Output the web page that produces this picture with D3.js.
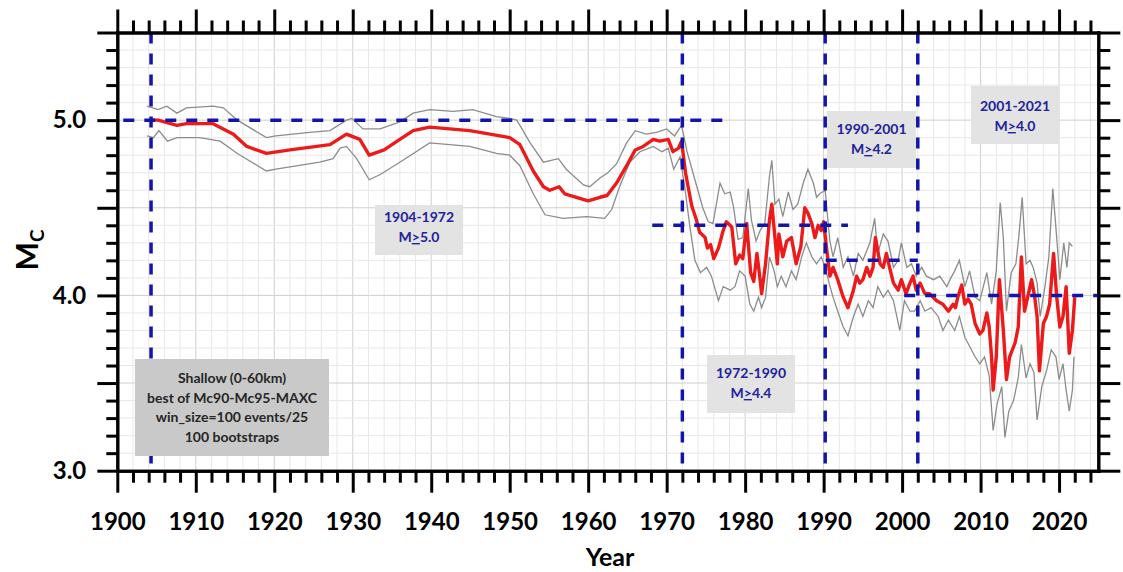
<!DOCTYPE html>
<html>
<head>
<meta charset="utf-8">
<script src="https://cdn.jsdelivr.net/npm/d3@7"></script>
<style>
  html, body { margin: 0; padding: 0; background: #ffffff; }
  svg { display: block; font-family: Lato, "Open Sans", sans-serif; }
</style>
</head>
<body>
<svg id="chart" width="1123" height="572"></svg>
<script>
// ---- Mc time series (best of Mc90-Mc95-MAXC), with bootstrap bounds ----
const mcYears = [1904.3,1905.2,1907.6,1908.8,1912.2,1914.8,1916.5,1919.0,1922.0,1927.1,1929.2,1930.9,1932.1,1934.0,1936.0,1937.7,1939.8,1944.9,1947.5,1950.0,1951.3,1953.0,1954.3,1955.1,1956.3,1957.0,1958.5,1960.0,1961.5,1962.4,1963.6,1964.9,1966.0,1967.0,1968.3,1969.1,1970.2,1970.8,1971.5,1971.9,1972.4,1973.2,1973.8,1974.2,1974.9,1975.2,1975.6,1976.0,1976.6,1977.2,1977.6,1978.3,1978.8,1979.3,1979.7,1980.2,1980.7,1981.1,1981.5,1981.8,1982.1,1982.6,1983.1,1983.4,1983.8,1984.1,1984.3,1984.8,1985.3,1985.9,1986.5,1987.1,1987.6,1988.0,1988.5,1988.9,1989.3,1989.7,1990.0,1990.4,1990.8,1991.2,1991.8,1992.5,1993.1,1993.8,1994.2,1994.6,1995.0,1995.5,1995.9,1996.3,1996.6,1997.2,1997.6,1998.0,1998.4,1998.9,1999.5,1999.9,2000.5,2001.0,2001.4,2001.8,2002.3,2002.9,2003.5,2004.4,2005.2,2005.9,2006.5,2006.8,2007.1,2007.6,2008.0,2008.4,2008.8,2009.3,2009.9,2010.3,2010.8,2011.1,2011.4,2011.6,2012.0,2012.4,2012.9,2013.3,2013.7,2014.4,2014.8,2015.2,2015.6,2016.1,2016.5,2016.9,2017.2,2017.5,2018.0,2018.4,2018.8,2019.3,2019.7,2020.1,2020.5,2020.9,2021.3,2021.7,2022.0];
const mcValues = [5.00,5.00,4.97,4.98,4.98,4.92,4.85,4.81,4.83,4.86,4.92,4.89,4.80,4.83,4.89,4.94,4.96,4.94,4.92,4.90,4.86,4.71,4.62,4.60,4.62,4.58,4.56,4.54,4.56,4.57,4.64,4.74,4.83,4.85,4.89,4.88,4.89,4.82,4.84,4.88,4.70,4.51,4.43,4.36,4.33,4.27,4.29,4.21,4.27,4.37,4.42,4.39,4.18,4.23,4.21,4.41,4.13,4.08,4.24,4.13,4.01,4.18,4.43,4.52,4.33,4.18,4.35,4.22,4.31,4.33,4.18,4.28,4.50,4.47,4.41,4.33,4.40,4.37,4.42,4.26,4.11,4.16,4.09,3.99,3.93,4.03,4.11,4.07,4.09,4.16,4.11,4.16,4.33,4.18,4.16,4.24,4.16,4.07,4.03,4.09,4.01,4.07,4.11,4.03,4.07,4.01,4.01,3.97,3.95,3.91,3.95,3.93,3.99,4.06,3.95,3.98,3.95,3.84,3.78,3.80,3.90,3.82,3.65,3.46,3.65,4.09,3.80,3.52,3.65,3.73,3.82,4.22,3.91,4.01,4.09,3.99,3.88,3.57,3.84,3.88,3.95,4.24,3.99,3.82,3.88,4.05,3.67,3.80,3.99];

const upperYears = [1903.8,1905.2,1906.3,1907.6,1908.8,1912.2,1913.5,1915.3,1919.0,1920.2,1924.5,1927.1,1929.2,1929.9,1931.3,1933.5,1936.0,1937.7,1939.8,1942.8,1945.3,1948.3,1950.0,1950.9,1951.3,1952.6,1954.3,1956.2,1957.2,1959.4,1960.2,1961.5,1962.5,1963.6,1964.9,1966.0,1967.4,1968.7,1970.0,1971.0,1971.9,1972.6,1973.6,1974.6,1975.3,1975.9,1976.8,1977.4,1978.1,1978.5,1979.1,1979.7,1980.4,1980.8,1981.4,1981.9,1982.5,1983.1,1983.4,1983.8,1984.3,1984.8,1985.5,1986.1,1986.7,1987.4,1988.0,1988.7,1989.1,1989.5,1990.2,1990.6,1990.8,1991.2,1991.8,1992.5,1993.1,1993.8,1994.4,1995.0,1995.9,1996.5,1996.9,1997.6,1998.2,1998.9,1999.5,1999.9,2000.6,2001.2,2001.8,2002.5,2003.1,2004.0,2004.8,2005.7,2006.1,2006.7,2007.3,2008.0,2008.6,2009.3,2009.9,2010.8,2011.4,2012.0,2012.5,2012.9,2013.3,2013.9,2014.5,2014.9,2015.3,2015.8,2016.3,2016.7,2017.2,2017.6,2018.2,2018.7,2019.2,2019.7,2020.1,2020.6,2021.0,2021.3,2021.7];
const upperValues = [5.08,5.06,5.08,5.04,5.07,5.08,5.07,5.00,4.90,4.91,4.93,4.94,5.00,5.01,4.95,4.95,4.99,5.04,5.06,5.05,5.06,5.02,5.01,5.00,4.97,4.87,4.76,4.78,4.72,4.63,4.62,4.67,4.70,4.75,4.87,4.94,4.92,4.93,4.95,4.91,4.97,4.82,4.66,4.50,4.42,4.41,4.64,4.58,4.59,4.51,4.32,4.33,4.61,4.43,4.31,4.37,4.41,4.68,4.77,4.52,4.55,4.45,4.59,4.49,4.52,4.64,4.72,4.64,4.56,4.58,4.60,4.40,4.31,4.22,4.33,4.16,4.22,4.11,4.24,4.20,4.30,4.44,4.24,4.35,4.31,4.16,4.20,4.30,4.16,4.18,4.11,4.16,4.11,4.09,4.11,4.05,4.09,4.14,4.20,4.05,4.14,3.99,3.97,4.13,3.95,4.14,4.53,4.33,3.91,4.13,4.18,4.35,4.56,4.18,4.20,4.16,4.07,3.88,4.05,4.22,4.61,4.33,4.09,4.30,4.16,4.30,4.28];

const lowerYears = [1903.8,1904.6,1905.3,1906.4,1907.6,1910.5,1913.1,1915.3,1919.0,1920.2,1925.8,1927.5,1928.4,1929.2,1930.5,1932.1,1933.5,1936.0,1939.8,1944.9,1948.3,1950.0,1951.3,1953.0,1954.5,1956.8,1959.8,1962.1,1963.0,1964.0,1965.3,1966.6,1968.3,1969.4,1970.2,1970.9,1971.7,1972.3,1973.0,1973.6,1974.3,1975.1,1975.7,1976.6,1977.2,1978.1,1978.7,1979.3,1980.0,1980.6,1981.1,1981.7,1982.1,1982.6,1983.1,1983.7,1984.1,1984.6,1985.2,1985.9,1986.5,1987.2,1987.8,1988.5,1989.1,1989.7,1990.2,1990.7,1991.2,1991.8,1992.5,1993.1,1993.8,1994.4,1995.0,1995.7,1996.3,1996.9,1997.6,1998.2,1998.9,1999.7,2000.3,2001.0,2001.6,2002.3,2002.9,2003.7,2004.6,2005.2,2005.9,2006.7,2007.3,2008.0,2008.6,2009.3,2009.9,2010.5,2011.1,2011.6,2012.1,2012.7,2013.1,2013.6,2014.2,2014.8,2015.2,2015.8,2016.3,2016.8,2017.2,2017.8,2018.4,2019.0,2019.6,2020.0,2020.5,2020.9,2021.3,2021.7,2021.9];
const lowerValues = [4.91,4.90,4.94,4.88,4.90,4.90,4.88,4.81,4.71,4.72,4.76,4.78,4.84,4.85,4.78,4.66,4.69,4.76,4.87,4.85,4.81,4.80,4.74,4.58,4.46,4.44,4.45,4.44,4.49,4.62,4.76,4.82,4.85,4.82,4.84,4.72,4.79,4.62,4.38,4.20,4.13,4.16,4.11,3.97,4.05,4.03,4.05,4.14,4.11,3.95,3.91,3.99,3.93,3.99,4.22,4.14,4.05,4.11,4.05,4.14,4.09,4.22,4.30,4.22,4.18,4.22,4.16,4.07,3.99,3.91,3.82,3.77,3.88,3.95,3.88,3.97,3.93,4.05,3.99,4.03,3.97,3.80,3.97,3.91,3.91,3.97,3.91,3.93,3.88,3.80,3.86,3.80,3.88,3.76,3.71,3.65,3.61,3.65,3.54,3.23,3.38,3.48,3.19,3.34,3.40,3.53,3.72,3.53,3.61,3.56,3.29,3.48,3.57,3.69,3.65,3.52,3.61,3.46,3.34,3.46,3.65];

// ---- completeness thresholds per period ----
const periodBreaks = [1904.3, 1972.0, 1990.2, 2002.0];
const thresholdLevels = [5.0, 4.4, 4.2, 4.0];
const thresholdFrom = [1900.0, 1967.4, 1989.5, 1999.5];
const thresholdTo = [1978.0, 1993.1, 2002.0, 2025.0];
const periodLabels = ["1904-1972", "1972-1990", "1990-2001", "2001-2021"];
const periodMags = ["5.0", "4.4", "4.2", "4.0"];
const infoLines = ["Shallow (0-60km)", "best of Mc90-Mc95-MAXC", "win_size=100 events/25", "100 bootstraps"];

// ---- axis ticks ----
const yearMajor = d3.range(1900, 2021, 10);
const yearMinor = d3.range(1902, 2025, 2).filter(d => d % 10 !== 0);
const magMajor = [3.0, 3.5, 4.0, 4.5, 5.0, 5.5];
const magMinor = d3.range(31, 55).map(d => d / 10).filter(v => Math.round(v * 10) % 5 !== 0);
const magLabelled = [3.0, 4.0, 5.0];

// ---- layout ----
const padL = 117.3, padR = 1098.3, padT = 32.5, padB = 470.7;
const x = d3.scaleLinear().domain([1900, 2025]).range([padL, padR]);
const y = d3.scaleLinear().domain([3.0, 5.5]).range([padB, padT]);

const svg = d3.select("#chart");
const BLUE = "#1414aa";
const TEXT_BLUE = "#22229c";

// grid
const grid = svg.append("g");
grid.selectAll("line.v").data(d3.range(1902, 2025, 2)).join("line")
  .attr("x1", d => x(d)).attr("x2", d => x(d))
  .attr("y1", padT).attr("y2", padB)
  .attr("stroke", d => d % 10 === 0 ? "#cfcfcf" : "#e8e8e8")
  .attr("stroke-width", 1);
grid.selectAll("line.h").data(d3.range(31, 55).map(d => d / 10)).join("line")
  .attr("x1", padL).attr("x2", padR)
  .attr("y1", d => y(d)).attr("y2", d => y(d))
  .attr("stroke", d => Math.round(d * 10) % 5 === 0 ? "#cfcfcf" : "#e8e8e8")
  .attr("stroke-width", 1);

// series
const line = d3.line().x(d => x(d[0])).y(d => y(d[1]));
const zip = (a, b) => a.map((v, i) => [v, b[i]]);
svg.append("path").datum(zip(upperYears, upperValues))
  .attr("d", line).attr("fill", "none").attr("stroke", "#8c8c8c").attr("stroke-width", 1.3);
svg.append("path").datum(zip(lowerYears, lowerValues))
  .attr("d", line).attr("fill", "none").attr("stroke", "#8c8c8c").attr("stroke-width", 1.3);
svg.append("path").datum(zip(mcYears, mcValues))
  .attr("d", line).attr("fill", "none").attr("stroke", "#ec1a1a")
  .attr("stroke-width", 3.4).attr("stroke-linejoin", "round");

// threshold lines
const dash = "11,10";
svg.append("g").selectAll("line").data(periodBreaks).join("line")
  .attr("x1", d => x(d)).attr("x2", d => x(d))
  .attr("y1", y(5.5)).attr("y2", y(3.0))
  .attr("stroke", BLUE).attr("stroke-width", 3.5).attr("stroke-dasharray", dash);
svg.append("g").selectAll("line").data(thresholdLevels.map((v, i) => ({ v, a: thresholdFrom[i], b: thresholdTo[i] })))
  .join("line")
  .attr("x1", d => x(d.a) + 6).attr("x2", d => x(d.b))
  .attr("y1", d => y(d.v)).attr("y2", d => y(d.v))
  .attr("stroke", BLUE).attr("stroke-width", 3.5).attr("stroke-dasharray", dash);

// axes
function styleAxis(g) {
  g.attr("font-family", null).attr("font-size", null);
  g.selectAll("path.domain").attr("stroke", "#000").attr("stroke-width", 3).attr("stroke-linecap", "square");
  g.selectAll(".tick line").attr("stroke", "#000").attr("stroke-width", 3);
  g.selectAll(".tick text").attr("fill", "#000")
    .style("font-family", "Lato, 'Open Sans', sans-serif")
    .style("font-size", "24px").style("font-weight", "bold");
}
const noLabel = () => "";
// bottom
svg.append("g").attr("transform", `translate(0,${padB})`)
  .call(d3.axisBottom(x).tickValues(yearMinor).tickSize(12).tickSizeOuter(0).tickFormat(noLabel)).call(styleAxis);
svg.append("g").attr("transform", `translate(0,${padB})`)
  .call(d3.axisBottom(x).tickValues(yearMajor).tickSize(22).tickSizeOuter(0).tickPadding(20).tickFormat(d3.format("d"))).call(styleAxis);
// top
svg.append("g").attr("transform", `translate(0,${padT})`)
  .call(d3.axisTop(x).tickValues(yearMinor).tickSize(12).tickSizeOuter(0).tickFormat(noLabel)).call(styleAxis);
svg.append("g").attr("transform", `translate(0,${padT})`)
  .call(d3.axisTop(x).tickValues(yearMajor).tickSize(23).tickSizeOuter(0).tickFormat(noLabel)).call(styleAxis);
// left
svg.append("g").attr("transform", `translate(${padL},0)`)
  .call(d3.axisLeft(y).tickValues(magMinor).tickSize(11).tickSizeOuter(0).tickFormat(noLabel)).call(styleAxis);
svg.append("g").attr("transform", `translate(${padL},0)`)
  .call(d3.axisLeft(y).tickValues(magMajor).tickSize(20).tickSizeOuter(0).tickPadding(11)
    .tickFormat(d => magLabelled.includes(d) ? d3.format(".1f")(d) : "")).call(styleAxis);
// right
svg.append("g").attr("transform", `translate(${padR},0)`)
  .call(d3.axisRight(y).tickValues(magMinor).tickSize(12).tickSizeOuter(0).tickFormat(noLabel)).call(styleAxis);
svg.append("g").attr("transform", `translate(${padR},0)`)
  .call(d3.axisRight(y).tickValues(magMajor).tickSize(22).tickSizeOuter(0).tickFormat(noLabel)).call(styleAxis);

// axis titles
svg.append("text").attr("x", 610).attr("y", 566).attr("text-anchor", "middle")
  .style("font-size", "25px").style("font-weight", "bold").attr("fill", "#000").text("Year");
const yt = svg.append("text").attr("transform", "translate(38,250) rotate(-90)")
  .attr("text-anchor", "middle").style("font-size", "30px").style("font-weight", "bold").attr("fill", "#000");
yt.append("tspan").text("M");
yt.append("tspan").attr("dy", 6).style("font-size", "19px").text("C");

// settings box
const info = svg.append("g");
info.append("rect").attr("x", 135).attr("y", 359).attr("width", 194).attr("height", 97).attr("fill", "#c9c9c9");
info.selectAll("text").data(infoLines).join("text")
  .attr("x", 232).attr("y", (d, i) => 383 + i * 19.5).attr("text-anchor", "middle")
  .style("font-size", "14px").style("font-weight", "bold").attr("fill", "#262626").text(d => d);

// period boxes
const boxPlace = [
  { x: 375, y: 205, w: 88, h: 50, b: 222 },
  { x: 707, y: 355, w: 88, h: 58, b: 378 },
  { x: 827, y: 111, w: 89, h: 57, b: 134 },
  { x: 971, y: 86, w: 88, h: 58, b: 111 }
];
periodLabels.forEach((label, i) => {
  const p = boxPlace[i];
  const g = svg.append("g");
  g.append("rect").attr("x", p.x).attr("y", p.y).attr("width", p.w).attr("height", p.h).attr("fill", "#e3e3e3");
  const cx = p.x + p.w / 2;
  g.append("text").attr("x", cx).attr("y", p.b).attr("text-anchor", "middle")
    .style("font-size", "14px").style("font-weight", "bold").attr("fill", TEXT_BLUE).text(label);
  const t = g.append("text").attr("x", cx).attr("y", p.b + 20).attr("text-anchor", "middle")
    .style("font-size", "14px").style("font-weight", "bold").attr("fill", TEXT_BLUE);
  t.append("tspan").text("M");
  t.append("tspan").style("text-decoration", "underline").text(">");
  t.append("tspan").text(periodMags[i]);
});
</script>
</body>
</html>
